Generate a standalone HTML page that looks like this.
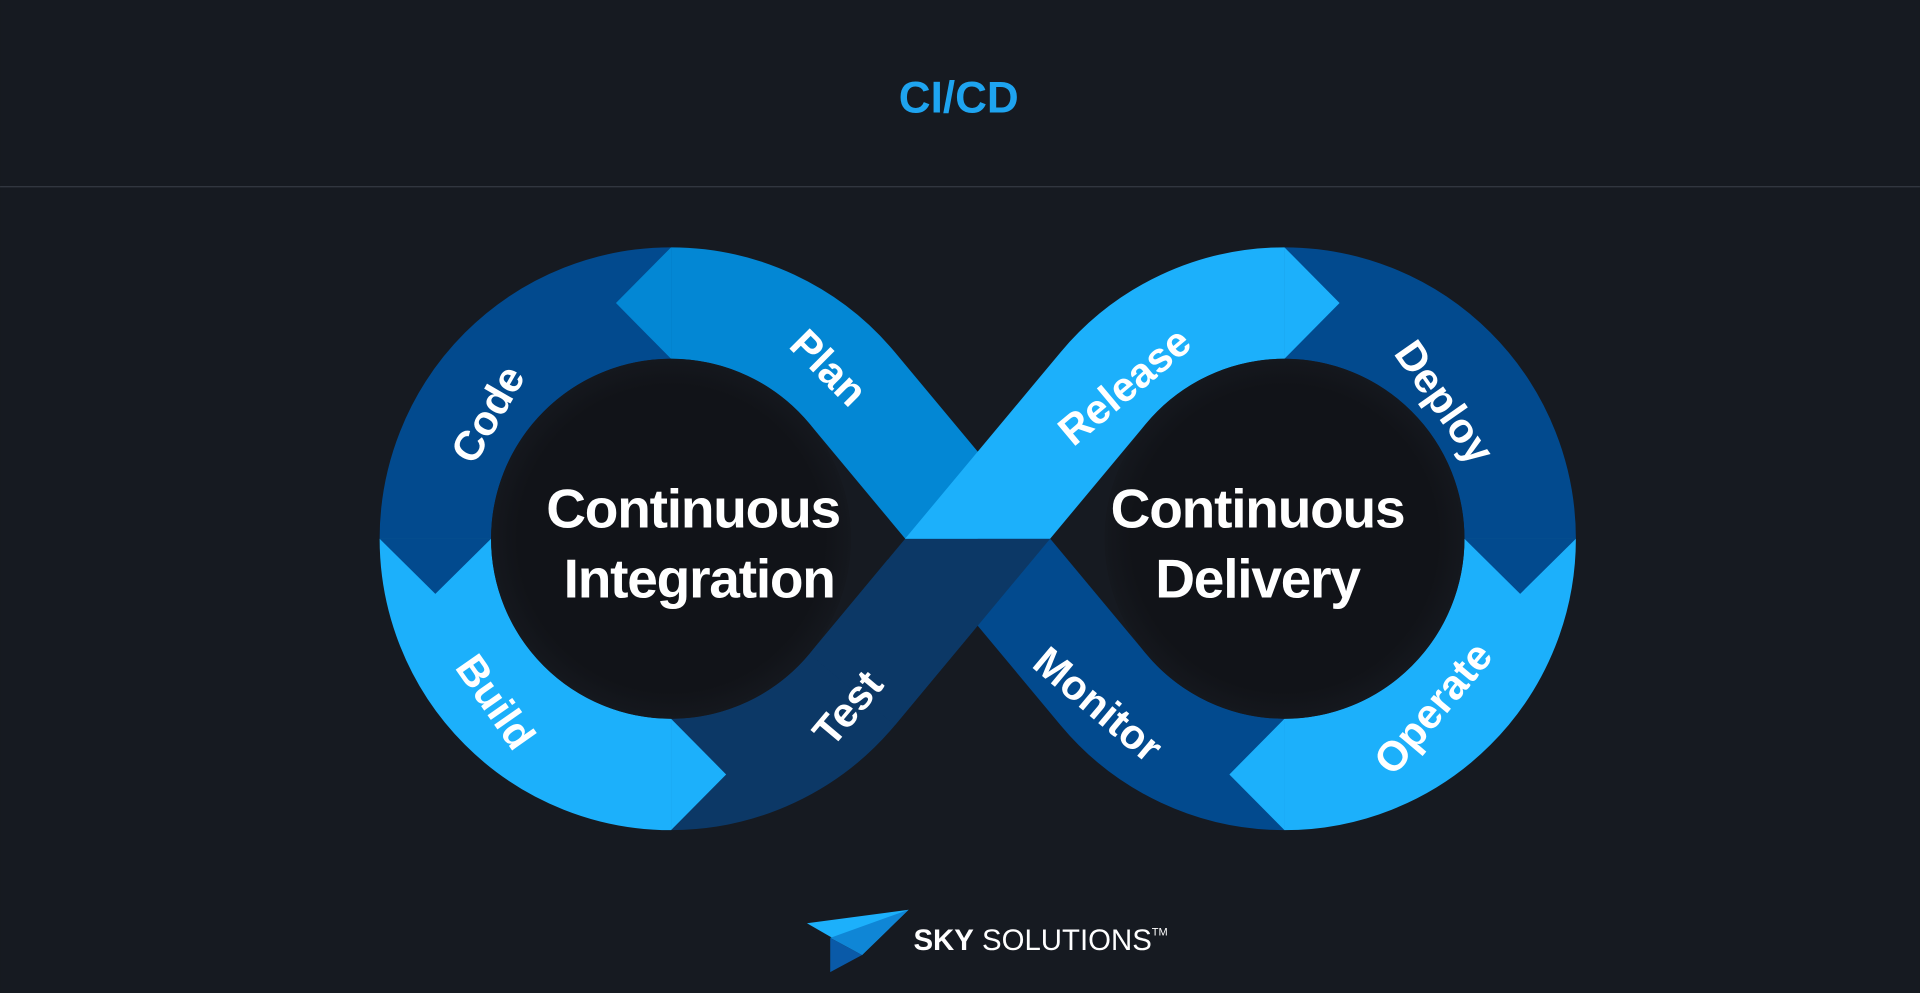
<!DOCTYPE html>
<html><head><meta charset="utf-8"><style>
html,body{margin:0;padding:0;background:#161a21;}
svg{display:block;}
</style></head><body>
<svg width="1920" height="993" viewBox="0 0 1568 811" xmlns="http://www.w3.org/2000/svg">
<defs>
<radialGradient id="hole" cx="50%" cy="50%" r="50%">
<stop offset="0.85" stop-color="#111318"/>
<stop offset="1" stop-color="#15181e"/>
</radialGradient>
<clipPath id="below"><rect x="600" y="440" width="400" height="200"/></clipPath>
<clipPath id="above"><rect x="600" y="150" width="600" height="290"/></clipPath>
</defs>
<rect width="1568" height="811" fill="#161a21"/>
<text x="783" y="92" text-anchor="middle" font-family="Liberation Sans, sans-serif" font-weight="bold" font-size="36" fill="#1ea4f0">CI/CD</text>
<rect x="0" y="152" width="1568" height="1" fill="#353a43"/>

<g fill="none" stroke-width="91" stroke-linecap="butt">
<!-- Monitor -->
<path d="M1049,632.5 A192.5 192.5 0 0 1 901.1,563.2 L798.5,440" stroke="#024a8e"/>
<!-- Operate -->
<path d="M1241.5,440 A192.5 192.5 0 0 1 1049,632.5" stroke="#1cb0fb"/>
<polygon points="1049,678 1004,632.5 1049,587" fill="#1cb0fb" stroke="none"/>
<!-- Deploy -->
<path d="M1049,247.5 A192.5 192.5 0 0 1 1241.5,440" stroke="#024a8e"/>
<polygon points="1287,440 1241.5,485 1196,440" fill="#024a8e" stroke="none"/>
<!-- Test -->
<path d="M548,632.5 A192.5 192.5 0 0 0 695.9,563.2 L760,486" stroke="#0c3866"/>
<!-- Build -->
<path d="M355.5,440 A192.5 192.5 0 0 0 548,632.5" stroke="#1cb0fb"/>
<polygon points="548,678 593,632.5 548,587" fill="#1cb0fb" stroke="none"/>
<!-- Code -->
<path d="M548,247.5 A192.5 192.5 0 0 0 355.5,440" stroke="#024a8e"/>
<polygon points="310,440 355.5,485 401,440" fill="#024a8e" stroke="none"/>
<!-- Plan -->
<path d="M798.5,440 L695.9,316.8 A192.5 192.5 0 0 0 548,247.5" stroke="#0387d4"/>
<polygon points="548,202 503,247.5 548,293" fill="#0387d4" stroke="none"/>
<!-- Test at crossing -->
<path d="M695.9,563.2 L850,378" stroke="#0c3866" clip-path="url(#below)"/>
<!-- Release -->
<path d="M745,504 L901.1,316.8 A192.5 192.5 0 0 1 1049,247.5" stroke="#1cb0fb" clip-path="url(#above)"/>
</g>
<polygon points="1049,202 1094,247.5 1049,293" fill="#1cb0fb"/>

<circle cx="548" cy="440" r="147" fill="url(#hole)"/>
<circle cx="1049" cy="440" r="147" fill="url(#hole)"/>

<g font-family="Liberation Sans, sans-serif" font-weight="bold" font-size="34" fill="#ffffff" text-anchor="middle">
<text transform="translate(677,300) rotate(45)" dy="12">Plan</text>
<text transform="translate(398,338) rotate(-60)" dy="12">Code</text>
<text transform="translate(405,573) rotate(55)" dy="12">Build</text>
<text transform="translate(692,578) rotate(-50)" dy="12">Test</text>
<text transform="translate(918,315) rotate(-40)" dy="12">Release</text>
<text transform="translate(1180,328) rotate(55)" dy="12">Deploy</text>
<text transform="translate(1170,578) rotate(-50)" dy="12">Operate</text>
<text transform="translate(897,575) rotate(40)" dy="12">Monitor</text>
</g>
<g font-family="Liberation Sans, sans-serif" font-weight="bold" font-size="45" fill="#ffffff" text-anchor="middle" letter-spacing="-1">
<text x="566" y="431">Continuous</text>
<text x="571" y="488">Integration</text>
<text x="1027" y="431">Continuous</text>
<text x="1027" y="488">Delivery</text>
</g>

<polygon points="659,754 742,743 704,780" fill="#1cb0fb"/>
<polygon points="678,766 742,743 704,780" fill="#0f86d6"/>
<polygon points="678,766 704,780 678,794" fill="#0a5aa8"/>
<text x="746" y="776" font-family="Liberation Sans Narrow, Liberation Sans, sans-serif" font-size="24" fill="#ffffff"><tspan font-weight="bold">SKY</tspan> SOLUTIONS<tspan font-size="9" dy="-12">TM</tspan></text>
</svg>
</body></html>
